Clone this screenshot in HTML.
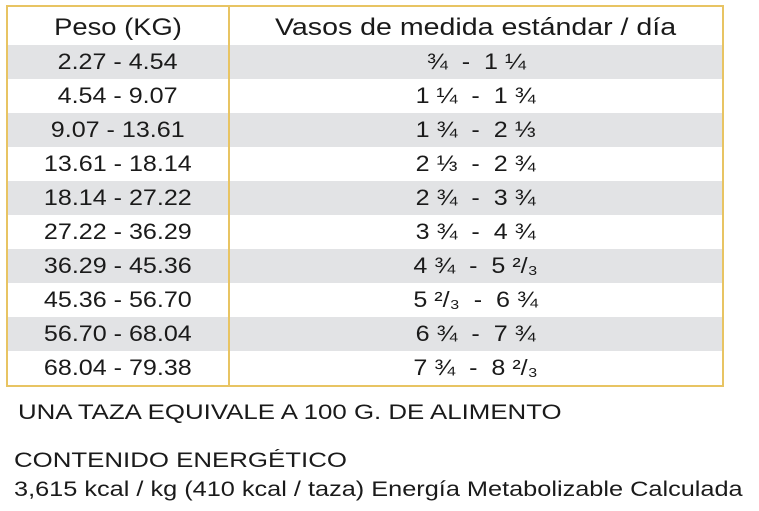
<!DOCTYPE html>
<html><head><meta charset="utf-8"><style>
body{margin:0;width:759px;height:511px;background:#fff;font-family:"Liberation Sans",sans-serif;color:#1a1a1a;position:relative;overflow:hidden}
.tbl{position:absolute;left:6px;top:5px;width:714px;height:378px;border:2px solid #e8c463;box-sizing:content-box}
.div{position:absolute;left:220px;top:0;width:2px;height:378px;background:#e8c463}
.row{position:absolute;left:0;width:714px;height:34px;font-size:22px;line-height:34px}
.g{background:#e2e3e5}
.c1{position:absolute;left:0;width:220px;text-align:center}
.c2{position:absolute;left:222px;width:492px;text-align:center}
.c1 b,.c2 b{font-weight:normal;display:inline-block;transform:scaleX(1.14)}
.hd{font-size:24px;line-height:42px;height:38px;top:0}
.hd .c2 b{transform:scaleX(1.19)}
.t{position:absolute;left:18px;font-size:21px;white-space:nowrap;transform-origin:0 0;transform:scaleX(1.23)}
</style></head><body>
<div class="tbl">
<div class="row hd"><span class="c1"><b>Peso (KG)</b></span><span class="c2"><b>Vasos de medida estándar / día</b></span></div>
<div class="row g" style="top:38px"><span class="c1"><b>2.27 - 4.54</b></span><span class="c2"><b>¾ &nbsp;- &nbsp;1 ¼</b></span></div>
<div class="row" style="top:72px"><span class="c1"><b>4.54 - 9.07</b></span><span class="c2"><b>1 ¼ &nbsp;- &nbsp;1 ¾</b></span></div>
<div class="row g" style="top:106px"><span class="c1"><b>9.07 - 13.61</b></span><span class="c2"><b>1 ¾ &nbsp;- &nbsp;2 ⅓</b></span></div>
<div class="row" style="top:140px"><span class="c1"><b>13.61 - 18.14</b></span><span class="c2"><b>2 ⅓ &nbsp;- &nbsp;2 ¾</b></span></div>
<div class="row g" style="top:174px"><span class="c1"><b>18.14 - 27.22</b></span><span class="c2"><b>2 ¾ &nbsp;- &nbsp;3 ¾</b></span></div>
<div class="row" style="top:208px"><span class="c1"><b>27.22 - 36.29</b></span><span class="c2"><b>3 ¾ &nbsp;- &nbsp;4 ¾</b></span></div>
<div class="row g" style="top:242px"><span class="c1"><b>36.29 - 45.36</b></span><span class="c2"><b>4 ¾ &nbsp;- &nbsp;5 ²/₃</b></span></div>
<div class="row" style="top:276px"><span class="c1"><b>45.36 - 56.70</b></span><span class="c2"><b>5 ²/₃ &nbsp;- &nbsp;6 ¾</b></span></div>
<div class="row g" style="top:310px"><span class="c1"><b>56.70 - 68.04</b></span><span class="c2"><b>6 ¾ &nbsp;- &nbsp;7 ¾</b></span></div>
<div class="row" style="top:344px"><span class="c1"><b>68.04 - 79.38</b></span><span class="c2"><b>7 ¾ &nbsp;- &nbsp;8 ²/₃</b></span></div>
<div class="div"></div>
</div>
<div class="t" style="top:401px">UNA TAZA EQUIVALE A 100 G. DE ALIMENTO</div>
<div class="t" style="top:449px;left:14px">CONTENIDO ENERGÉTICO</div>
<div class="t" style="top:478px;left:14px;transform:scaleX(1.205)">3,615 kcal / kg (410 kcal / taza) Energía Metabolizable Calculada</div>
</body></html>
